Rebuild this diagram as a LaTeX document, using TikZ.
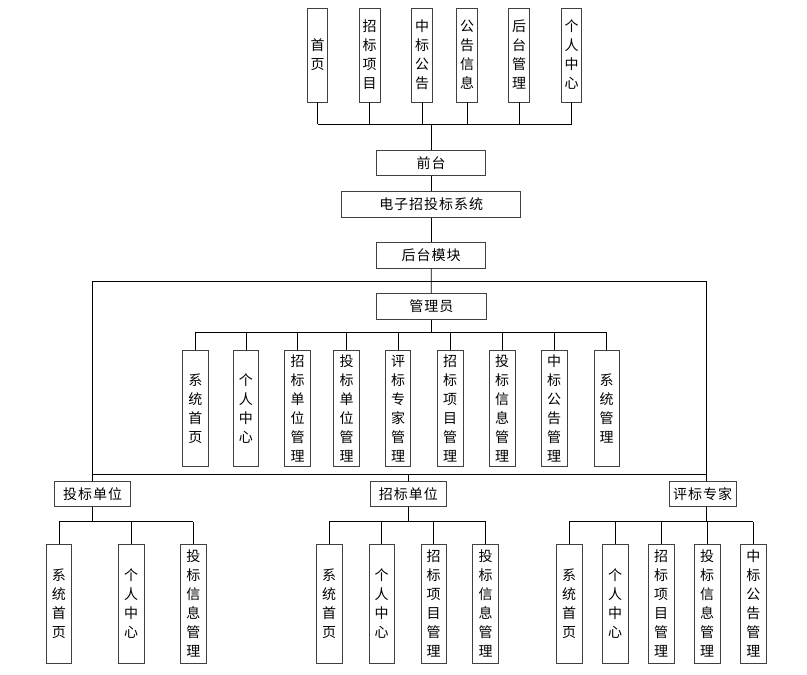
\documentclass[tikz,border=0pt]{standalone}
\usepackage{fontspec}
\setmainfont{Noto Sans CJK SC}[LetterSpace=7]
\usetikzlibrary{calc}
\tikzset{
  box/.style={draw=black!75,line width=0.8pt,inner sep=0pt,align=center,
    font=\fontsize{14}{19}\selectfont},
  hbox/.style={box,minimum height=25.7pt},
  vbox/.style={box,minimum width=25.5pt},
  link/.style={line width=0.8pt,black}
}

\begin{document}
\begin{tikzpicture}[x=1pt,y=-1pt]
        \fill[white] (0,0) rectangle (807,675);
        % front pages
        \foreach \i/\x/\t in {1/317.5/{首\\页},2/369.7/{招\\标\\项\\目},3/422/{中\\标\\公\\告},
                              4/467/{公\\告\\信\\息},5/519/{后\\台\\管\\理},6/571.5/{个\\人\\中\\心}}
          \node[box,minimum width=20.5pt,minimum height=94pt] (top-\i) at (\x,55) {\t};
        \node[hbox,minimum width=109pt] (qt) at (431.2,162.8) {前台};
        \node[hbox,minimum width=179pt] (xt) at (431.2,204.5) {电子招投标系统};
        \node[hbox,minimum width=109pt] (ht) at (431.2,255.5) {后台模块};
        \node[hbox,minimum width=109.3pt] (gly) at (431.3,306.5) {管理员};

        \coordinate (bus-top) at (431.7,124.3);
        \foreach \i in {1,...,6}
          \draw[link] (top-\i.south) -- (top-\i.south |- bus-top);
        \draw[link] (top-1.south |- bus-top) -- (top-6.south |- bus-top);
        \draw[link] (bus-top) -- (bus-top |- qt.north);
        \draw[link] (qt.south) -- (xt.north);
        \draw[link] (xt.south) -- (ht.north);
        \draw[link] (ht.south) -- (gly.north);

        % administrator
        \foreach \i/\x/\t in {1/195.4/{系\\统\\首\\页},2/245.9/{个\\人\\中\\心},3/297.5/{招\\标\\单\\位\\管\\理},
                              4/346.6/{投\\标\\单\\位\\管\\理},5/398/{评\\标\\专\\家\\管\\理},6/450.2/{招\\标\\项\\目\\管\\理},
                              7/502.2/{投\\标\\信\\息\\管\\理},8/554.2/{中\\标\\公\\告\\管\\理},9/606.7/{系\\统\\管\\理}}
          \node[vbox,minimum height=115.5pt] (gl-\i) at (\x,408.3) {\t};
        \coordinate (bus-gl) at (431.3,332.3);
        \draw[link] (gly.south) -- (bus-gl);
        \foreach \i in {1,...,9}
          \draw[link] (gl-\i.north) -- (gl-\i.north |- bus-gl);
        \draw[link] (gl-1.north |- bus-gl) -- (gl-9.north |- bus-gl);

        % three roles
        \node[hbox,minimum width=75.7pt] (tb) at (92.7,493.8) {投标单位};
        \node[hbox,minimum width=76.7pt] (zb) at (408.3,493.8) {招标单位};
        \node[hbox,minimum width=67pt] (pb) at (702.7,493.8) {评标专家};
        \coordinate (rl) at (92.7,281);
        \coordinate (rr) at (706.7,281);
        \coordinate (rb) at (92.7,474);
        \draw[link] (tb.north) -- (rl) -- (rr) -- (rr |- pb.north);
        \draw[link] (rb) -- (rb -| rr);
        \draw[link] (zb.north) -- (zb.north |- rb);

        % role pages
        \coordinate (bus-b) at (0,521.7);
        \foreach \i/\x/\t in {1/59/{系\\统\\首\\页},2/131.2/{个\\人\\中\\心},3/193.3/{投\\标\\信\\息\\管\\理}}
          \node[vbox,minimum height=119pt] (tb-\i) at (\x,603.8) {\t};
        \foreach \i/\x/\t in {1/329.2/{系\\统\\首\\页},2/381.7/{个\\人\\中\\心},3/433.7/{招\\标\\项\\目\\管\\理},
                              4/485.5/{投\\标\\信\\息\\管\\理}}
          \node[vbox,minimum height=119pt] (zb-\i) at (\x,603.8) {\t};
        \foreach \i/\x/\t in {1/569.2/{系\\统\\首\\页},2/615.2/{个\\人\\中\\心},3/661.2/{招\\标\\项\\目\\管\\理},
                              4/707.2/{投\\标\\信\\息\\管\\理},5/753.3/{中\\标\\公\\告\\管\\理}}
          \node[vbox,minimum height=119pt] (pb-\i) at (\x,603.8) {\t};

        \draw[link] (tb.south) -- (tb.south |- bus-b);
        \foreach \i in {1,...,3}
          \draw[link] (tb-\i.north) -- (tb-\i.north |- bus-b);
        \draw[link] (tb-1.north |- bus-b) -- (tb-3.north |- bus-b);

        \draw[link] (zb.south) -- (zb.south |- bus-b);
        \foreach \i in {1,...,4}
          \draw[link] (zb-\i.north) -- (zb-\i.north |- bus-b);
        \draw[link] (zb-1.north |- bus-b) -- (zb-4.north |- bus-b);

        \draw[link] (rr |- pb.south) -- (rr |- bus-b);
        \foreach \i in {1,...,5}
          \draw[link] (pb-\i.north) -- (pb-\i.north |- bus-b);
        \draw[link] (pb-1.north |- bus-b) -- (pb-5.north |- bus-b);

      \end{tikzpicture}
\end{document}
